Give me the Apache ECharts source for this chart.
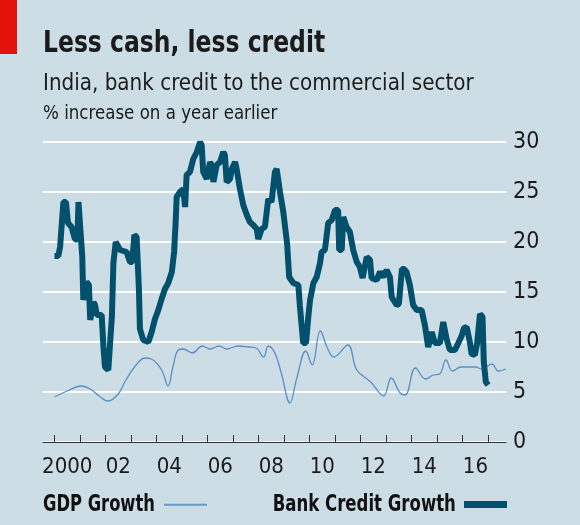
<!DOCTYPE html>
<html>
<head>
<meta charset="utf-8">
<script src="https://cdn.jsdelivr.net/npm/echarts@6/dist/echarts.min.js"></script>
<style>
html, body { margin: 0; padding: 0; background: #cddde6; }
#main { width: 580px; height: 525px; }
</style>
</head>
<body>
<div id="main"></div>
<script>
// bank credit growth, % y/y
const bankYears = [2000.00, 2000.15, 2000.22, 2000.35, 2000.45, 2000.53, 2000.67, 2000.80, 2000.90, 2000.94,
	2001.00, 2001.09, 2001.13, 2001.20, 2001.25, 2001.35, 2001.40, 2001.47, 2001.53, 2001.59,
	2001.66, 2001.72, 2001.85, 2001.92, 2001.98, 2002.11, 2002.18, 2002.25, 2002.31, 2002.40,
	2002.57, 2002.83, 2002.96, 2003.05, 2003.13, 2003.22, 2003.31, 2003.35, 2003.48, 2003.68,
	2003.81, 2003.94, 2004.07, 2004.20, 2004.33, 2004.46, 2004.60, 2004.69, 2004.75, 2004.79,
	2004.92, 2005.05, 2005.12, 2005.18, 2005.31, 2005.44, 2005.58, 2005.71, 2005.77, 2005.83,
	2005.97, 2006.10, 2006.16, 2006.23, 2006.36, 2006.49, 2006.62, 2006.68, 2006.75, 2006.88,
	2006.95, 2007.08, 2007.14, 2007.27, 2007.40, 2007.54, 2007.66, 2007.79, 2007.93, 2007.99,
	2008.12, 2008.25, 2008.38, 2008.51, 2008.64, 2008.71, 2008.84, 2008.97, 2009.12, 2009.20,
	2009.36, 2009.56, 2009.62, 2009.75, 2009.86, 2009.95, 2010.02, 2010.15, 2010.28, 2010.41,
	2010.47, 2010.60, 2010.73, 2010.87, 2011.00, 2011.12, 2011.16, 2011.26, 2011.32, 2011.45,
	2011.58, 2011.71, 2011.85, 2011.97, 2012.08, 2012.24, 2012.37, 2012.43, 2012.63, 2012.76,
	2012.89, 2013.02, 2013.15, 2013.22, 2013.41, 2013.50, 2013.62, 2013.70, 2013.80, 2013.93,
	2014.06, 2014.20, 2014.39, 2014.52, 2014.65, 2014.79, 2014.91, 2015.11, 2015.24, 2015.37,
	2015.50, 2015.70, 2015.83, 2015.96, 2016.05, 2016.16, 2016.29, 2016.35, 2016.48, 2016.57,
	2016.68, 2016.78, 2016.83, 2016.91, 2017.00];
const bankGrowth = [18.6, 18.6, 19.5, 24.0, 24.0, 21.9, 21.5, 20.3, 20.2, 24.0,
	24.0, 18.5, 14.2, 14.0, 16.0, 15.7, 12.2, 12.0, 14.0, 13.7,
	12.7, 12.8, 12.7, 9.5, 7.5, 7.2, 9.9, 12.5, 17.9, 20.0,
	19.2, 19.0, 18.0, 18.0, 20.7, 20.5, 15.3, 11.3, 10.2, 10.0,
	11.0, 12.3, 13.2, 14.3, 15.3, 15.9, 17.0, 19.0, 22.0, 24.5,
	25.0, 25.3, 23.5, 26.7, 27.0, 28.3, 29.0, 30.0, 29.7, 27.0,
	26.3, 28.0, 27.7, 26.0, 27.7, 28.0, 29.0, 28.7, 26.0, 26.3,
	27.3, 28.0, 27.3, 25.3, 23.7, 22.7, 22.0, 21.7, 21.3, 20.3,
	21.3, 21.5, 24.3, 24.0, 27.0, 27.3, 25.0, 23.0, 19.8, 16.5,
	15.9, 15.7, 13.6, 9.9, 9.9, 12.5, 14.2, 15.9, 16.5, 17.9,
	19.0, 19.2, 21.9, 22.2, 23.2, 23.2, 19.2, 19.2, 22.5, 21.5,
	21.0, 19.2, 18.0, 17.5, 16.4, 18.5, 18.2, 16.4, 16.2, 17.0,
	16.5, 17.2, 16.5, 14.5, 13.7, 13.8, 17.3, 17.3, 17.0, 15.7,
	13.7, 13.2, 13.2, 11.7, 9.5, 11.0, 9.9, 9.9, 12.0, 10.3,
	9.2, 9.2, 9.9, 10.6, 11.4, 11.5, 9.9, 8.8, 8.7, 9.9,
	12.8, 12.5, 8.0, 6.0, 5.7];

// GDP growth, % y/y
const gdpYears = [2000.0, 2000.5, 2001.05, 2001.4, 2001.75, 2002.1, 2002.5, 2002.8, 2003.2, 2003.55,
	2003.8, 2004.2, 2004.45, 2004.65, 2004.85, 2005.05, 2005.4, 2005.8, 2006.1, 2006.45,
	2006.75, 2007.2, 2007.6, 2007.9, 2008.2, 2008.38, 2008.64, 2008.9, 2009.23, 2009.5,
	2009.85, 2010.1, 2010.42, 2010.7, 2010.95, 2011.5, 2011.85, 2012.4, 2012.9, 2013.2,
	2013.55, 2013.75, 2014.15, 2014.55, 2014.85, 2015.1, 2015.35, 2015.6, 2015.95, 2016.5,
	2016.75, 2017.15, 2017.4, 2017.7];
const gdpGrowth = [4.5, 5.1, 5.6, 5.3, 4.6, 4.1, 4.8, 6.2, 7.7, 8.4,
	8.3, 7.2, 5.6, 7.6, 9.2, 9.3, 8.9, 9.6, 9.3, 9.6,
	9.3, 9.6, 9.5, 9.4, 8.5, 9.6, 8.9, 6.8, 3.9, 6.4,
	9.1, 7.7, 11.1, 9.4, 8.5, 9.7, 7.2, 6.0, 4.6, 6.4,
	4.9, 4.7, 7.4, 6.3, 6.7, 6.8, 8.2, 7.1, 7.5, 7.5,
	7.3, 7.8, 7.1, 7.3];

const tickYears = [2000, 2001, 2002, 2003, 2004, 2005, 2006, 2007, 2008,
	2009, 2010, 2011, 2012, 2013, 2014, 2015, 2016, 2017];
const labelYears = [2000, 2002, 2004, 2006, 2008, 2010, 2012, 2014, 2016];
const yearLabels = ["2000", "02", "04", "06", "08", "10", "12", "14", "16"];

const FONT = '"Liberation Sans Narrow", "Arial Narrow", "DejaVu Sans Condensed", sans-serif';
const ink = "#1b1b1b";

// text helper; sx squeezes the text sideways to get the narrow look of the original face
function label(text, x, y, font, sx, fill) {
	return {
		type: "text",
		x: x,
		y: y,
		scaleX: sx,
		style: { text: text, font: font, fill: fill || ink, verticalAlign: "middle" },
	};
}

let myChart = echarts.init(document.getElementById("main"), null, { renderer: "canvas" });

let options = {
	backgroundColor: "#cddde6",
	animation: false,
	grid: { left: 43, right: 74, top: 142, bottom: 83 },
	xAxis: {
		type: "value",
		min: 1999.55,
		max: 2017.7,
		axisLine: { lineStyle: { color: "#333", width: 1.2 } },
		axisTick: {
			inside: true,
			length: 7,
			lineStyle: { color: "#333", width: 1 },
			customValues: tickYears,
		},
		axisLabel: {
			customValues: labelYears.map((y) => y + 0.5),
			formatter: (v) => yearLabels[labelYears.indexOf(Math.floor(v))],
			color: ink,
			fontFamily: FONT,
			fontSize: 22,
			margin: 14,
		},
		splitLine: { show: false },
	},
	yAxis: {
		type: "value",
		position: "right",
		min: 0,
		max: 30,
		interval: 5,
		axisLine: { show: false },
		axisTick: { show: false },
		axisLabel: { color: ink, fontFamily: FONT, fontSize: 23, margin: 7 },
		splitLine: { lineStyle: { color: "#ffffff", width: 2 } },
	},
	series: [
		{
			name: "GDP Growth",
			type: "line",
			data: gdpYears.map((y, i) => [y, gdpGrowth[i]]),
			smooth: 0.4,
			showSymbol: false,
			lineStyle: { color: "#5a8fc3", width: 1.3 },
		},
		{
			name: "Bank Credit Growth",
			type: "line",
			data: bankYears.map((y, i) => [y, bankGrowth[i]]),
			showSymbol: false,
			lineStyle: { color: "#03506d", width: 6 },
		},
	],
	graphic: [
		{ type: "rect", shape: { x: 0, y: 0, width: 17, height: 54 }, style: { fill: "#e3120b" } },
		label("Less cash, less credit", 43, 44.5, "bold 30px " + FONT, 0.87),
		label("India, bank credit to the commercial sector", 43, 84, "23px " + FONT, 0.965),
		label("% increase on a year earlier", 43, 114.5, "19px " + FONT, 0.975),
		label("GDP Growth", 43, 505, "bold 23px " + FONT, 0.79, "#111"),
		{ type: "line", shape: { x1: 164, y1: 504.7, x2: 207, y2: 504.7 }, style: { stroke: "#6699c4", lineWidth: 2 } },
		label("Bank Credit Growth", 272.7, 505, "bold 23px " + FONT, 0.8, "#111"),
		{ type: "rect", shape: { x: 464, y: 501, width: 43, height: 7 }, style: { fill: "#03506d" } },
	],
};

myChart.setOption(options);
</script>
</body>
</html>
